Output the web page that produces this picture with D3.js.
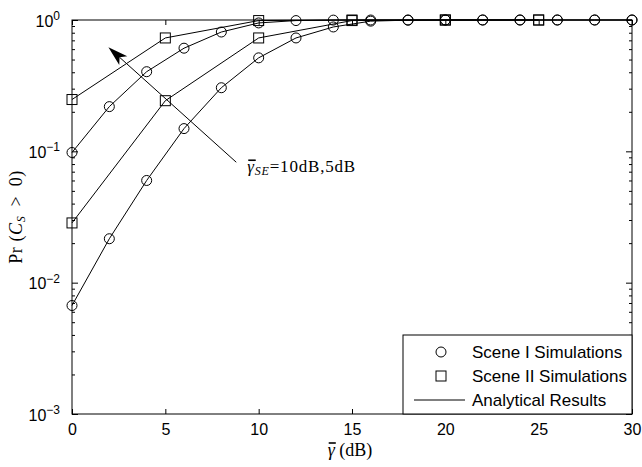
<!DOCTYPE html>
<html>
<head>
<meta charset="utf-8">
<script src="https://cdn.jsdelivr.net/npm/d3@7/dist/d3.min.js"></script>
<style>
  body { margin: 0; background: #fff; }
  svg { display: block; }
  .tick text { font-family: "Liberation Sans", Arial, sans-serif; font-size: 16px; fill: #000; }
</style>
</head>
<body>
<div id="chart"></div>
<script>
// data
var xCircle = [0, 2, 4, 6, 8, 10, 12, 14, 16, 18, 20, 22, 24, 26, 28, 30];
var sceneI_hi = [0.098, 0.219, 0.404, 0.61, 0.81, 0.95, 0.99, 0.998, 1, 1, 1, 1, 1, 1, 1, 1];
var sceneI_lo = [0.0067, 0.0216, 0.060, 0.149, 0.305, 0.515, 0.73, 0.885, 0.98, 0.997, 1, 1, 1, 1, 1, 1];
var xSquare = [0, 5, 10, 15, 20, 25];
var sceneII_hi = [0.248, 0.73, 0.99, 1, 1, 1];
var sceneII_lo = [0.0285, 0.243, 0.73, 0.99, 1, 1];
var xTicks = [0, 5, 10, 15, 20, 25, 30];
var yTicks = [1e-3, 1e-2, 1e-1, 1];
var legendLabels = ["Scene I Simulations", "Scene II Simulations", "Analytical Results"];

var W = 642, H = 467;
var margin = {top: 20, right: 10, bottom: 53, left: 72};
var width = W - margin.left - margin.right,
    height = H - margin.top - margin.bottom;

var svg = d3.select("#chart").append("svg")
    .attr("width", W).attr("height", H);
var g = svg.append("g")
    .attr("transform", "translate(" + margin.left + "," + margin.top + ")");

var x = d3.scaleLinear().domain([0, 30]).range([0, width]);
var y = d3.scaleLog().domain([1e-3, 1]).range([height, 0]);

// minor log ticks
var minor = [];
[1e-3, 1e-2, 1e-1].forEach(function(d) {
  for (var k = 2; k <= 9; k++) minor.push(d * k);
});

function strip(sel) { sel.select(".domain").remove(); sel.selectAll("line").attr("stroke", "#000"); }

// bottom / top
g.append("g").attr("transform", "translate(0," + height + ")")
  .call(d3.axisBottom(x).tickValues(xTicks).tickSizeInner(-5).tickSizeOuter(0).tickPadding(10))
  .call(strip);
g.append("g")
  .call(d3.axisTop(x).tickValues(xTicks).tickSizeInner(-5).tickSizeOuter(0).tickFormat(""))
  .call(strip);

// left / right major
var yl = g.append("g")
  .call(d3.axisLeft(y).tickValues(yTicks).tickSizeInner(-6).tickSizeOuter(0).tickPadding(12).tickFormat(""))
  .call(strip);
yl.selectAll(".tick text").each(function(d) {
  var t = d3.select(this).attr("dy", "0.38em");
  t.append("tspan").text("10");
  t.append("tspan").attr("dy", "-0.55em").attr("font-size", "12px").text(Math.round(Math.log10(d)).toString().replace("-", "\u2212"));
});
g.append("g").attr("transform", "translate(" + width + ",0)")
  .call(d3.axisRight(y).tickValues(yTicks).tickSizeInner(-6).tickSizeOuter(0).tickFormat(""))
  .call(strip);
// minor
g.append("g")
  .call(d3.axisLeft(y).tickValues(minor).tickSizeInner(-3).tickSizeOuter(0).tickFormat(""))
  .call(strip);
g.append("g").attr("transform", "translate(" + width + ",0)")
  .call(d3.axisRight(y).tickValues(minor).tickSizeInner(-3).tickSizeOuter(0).tickFormat(""))
  .call(strip);

// box
g.append("rect").attr("width", width).attr("height", height)
  .attr("fill", "none").attr("stroke", "#000").attr("stroke-width", 1);

var line = d3.line().x(function(d) { return x(d[0]); }).y(function(d) { return y(d[1]); });

function series(xs, ys, shape) {
  var pts = xs.map(function(v, i) { return [v, ys[i]]; });
  g.append("path").datum(pts).attr("d", line)
    .attr("fill", "none").attr("stroke", "#000").attr("stroke-width", 1);
  if (shape === "circle") {
    g.selectAll(null).data(pts).enter().append("circle")
      .attr("cx", function(d) { return x(d[0]); })
      .attr("cy", function(d) { return y(d[1]); })
      .attr("r", 5).attr("fill", "none").attr("stroke", "#000");
  } else {
    g.selectAll(null).data(pts).enter().append("rect")
      .attr("x", function(d) { return x(d[0]) - 5; })
      .attr("y", function(d) { return y(d[1]) - 5; })
      .attr("width", 10).attr("height", 10)
      .attr("fill", "none").attr("stroke", "#000");
  }
}
series(xSquare, sceneII_hi, "square");
series(xCircle, sceneI_hi, "circle");
series(xSquare, sceneII_lo, "square");
series(xCircle, sceneI_lo, "circle");

// annotation arrow
var a0 = [x(8.8), y(0.0826)], a1 = [x(1.95), y(0.62)];
var ang = Math.atan2(a1[1] - a0[1], a1[0] - a0[0]);
var hl = 20, hw = 6, notch = 5;
var bx = a1[0] - hl * Math.cos(ang), by = a1[1] - hl * Math.sin(ang);
var nx = bx + notch * Math.cos(ang), ny = by + notch * Math.sin(ang);
g.append("line").attr("x1", a0[0]).attr("y1", a0[1]).attr("x2", nx).attr("y2", ny)
  .attr("stroke", "#000");
g.append("path")
  .attr("d", "M" + a1[0] + "," + a1[1] +
    "L" + (bx + hw * Math.sin(ang)) + "," + (by - hw * Math.cos(ang)) +
    "L" + nx + "," + ny +
    "L" + (bx - hw * Math.sin(ang)) + "," + (by + hw * Math.cos(ang)) + "Z")
  .attr("fill", "#000");

var serif = "'Liberation Serif', 'Times New Roman', serif";

function overline(parent, textSel, idx) {
  var e = textSel.node().getExtentOfChar(idx);
  parent.append("line")
    .attr("x1", e.x + 1).attr("x2", e.x + e.width + 1)
    .attr("y1", e.y + 3).attr("y2", e.y + 3)
    .attr("stroke", "#000").attr("stroke-width", 1.6);
}

var ann = g.append("text").attr("x", a0[0] + 11).attr("y", a0[1] + 10)
  .attr("font-family", serif).attr("font-size", "17px").attr("letter-spacing", "0.8px");
ann.append("tspan").attr("font-style", "italic").text("\u03b3");
ann.append("tspan").attr("font-style", "italic").attr("font-size", "12px").attr("dy", "3").text("SE");
ann.append("tspan").attr("dy", "-3").text("=10dB,5dB");
overline(g, ann, 0);

// legend
var lg = g.append("g").attr("transform", "translate(" + (403 - margin.left) + "," + (335 - margin.top) + ")");
lg.append("rect").attr("width", 632 - 403).attr("height", height - (335 - margin.top))
  .attr("fill", "#fff").attr("stroke", "#000");
lg.append("circle").attr("cx", 38).attr("cy", 17).attr("r", 5).attr("fill", "none").attr("stroke", "#000");
lg.append("rect").attr("x", 33).attr("y", 36).attr("width", 10).attr("height", 10).attr("fill", "none").attr("stroke", "#000");
lg.append("line").attr("x1", 11).attr("x2", 62).attr("y1", 65).attr("y2", 65).attr("stroke", "#000");
lg.selectAll("text.lab").data(legendLabels).enter().append("text")
  .attr("class", "lab")
  .attr("x", 69).attr("y", function(d, i) { return 17 + i * 24; }).attr("dy", "0.36em")
  .attr("font-family", "'Liberation Sans', Arial, sans-serif").attr("font-size", "17px")
  .text(function(d) { return d; });

// axis labels
var xl = svg.append("text").attr("x", 350).attr("y", 456)
  .attr("text-anchor", "middle")
  .attr("font-family", serif).attr("font-size", "18px");
xl.append("tspan").attr("font-style", "italic").text("\u03b3");
xl.append("tspan").text(" (dB)");
overline(svg, xl, 0);

var ylab = svg.append("text")
  .attr("transform", "translate(22," + (margin.top + height / 2) + ") rotate(-90)")
  .attr("text-anchor", "middle")
  .attr("font-family", serif).attr("font-size", "18px").attr("letter-spacing", "0.6px");
ylab.append("tspan").text("Pr (");
ylab.append("tspan").attr("font-style", "italic").text("C");
ylab.append("tspan").attr("font-style", "italic").attr("font-size", "12px").attr("dy", "3").text("S");
ylab.append("tspan").attr("dy", "-3").text(" \u2009>\u2009 0)");
</script>
</body>
</html>
